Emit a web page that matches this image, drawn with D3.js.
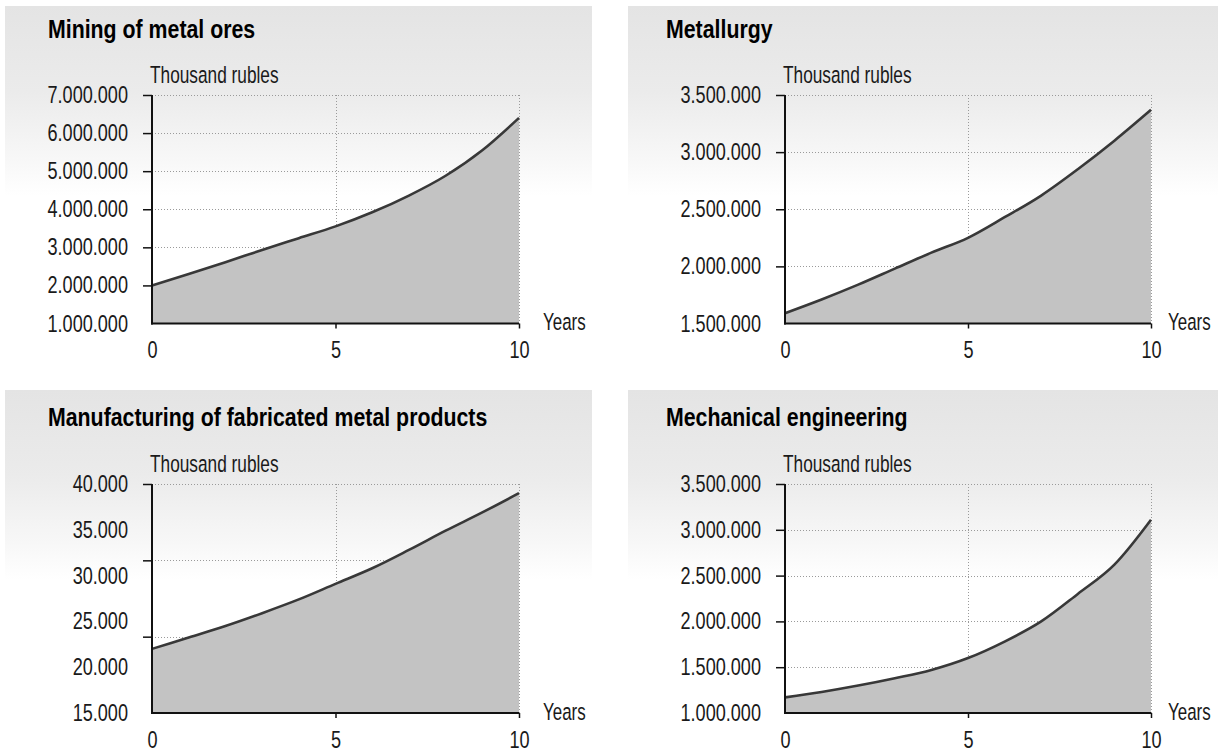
<!DOCTYPE html>
<html>
<head>
<meta charset="utf-8">
<script src="https://cdn.jsdelivr.net/npm/d3@7"></script>
<style>
  html, body { margin: 0; padding: 0; background: #ffffff; }
  svg { display: block; }
  text { font-family: "Liberation Sans", Arial, sans-serif; fill: #1a1a1a; }
  .title { font-weight: bold; font-size: 26px; fill: #000; }
  .lbl { font-size: 23.5px; }
</style>
</head>
<body>
<svg id="chart" width="1218" height="753"></svg>
<script>
// Years on the horizontal axis
const years = [0, 1, 2, 3, 4, 5, 6, 7, 8, 9, 10];
const yearTicks = [0, 5, 10];

// Panel titles
const titles = [
  "Mining of metal ores",
  "Metallurgy",
  "Manufacturing of fabricated metal products",
  "Mechanical engineering"
];

// Output per year, thousand rubles
const miningValues      = [2000000, 2300000, 2610000, 2930000, 3240000, 3550000, 3920000, 4360000, 4880000, 5550000, 6400000];
const metallurgyValues  = [1590000, 1710000, 1840000, 1980000, 2120000, 2250000, 2430000, 2620000, 2850000, 3100000, 3370000];
const fabricatedValues  = [22000, 23250, 24500, 25900, 27400, 29100, 30800, 32800, 34900, 36900, 39000];
const engineeringValues = [1170000, 1230000, 1300000, 1380000, 1470000, 1600000, 1780000, 2000000, 2300000, 2620000, 3110000];

// Value axis labels
const miningLabels      = [1000000, 2000000, 3000000, 4000000, 5000000, 6000000, 7000000];
const metallurgyLabels  = [1500000, 2000000, 2500000, 3000000, 3500000];
const fabricatedLabels  = [15000, 20000, 25000, 30000, 35000, 40000];
const engineeringLabels = [1000000, 1500000, 2000000, 2500000, 3000000, 3500000];

// Grid lines / tick marks on the value axis
const miningGrid      = [2000000, 3000000, 4000000, 5000000, 6000000, 7000000];
const metallurgyGrid  = [2000000, 2500000, 3000000, 3500000];
const fabricatedGrid  = [23333, 31667, 40000];
const engineeringGrid = [1500000, 2000000, 2500000, 3000000, 3500000];

const unitLabel = "Thousand rubles";
const yearsLabel = "Years";

const fmt = d3.formatLocale({ decimal: ",", thousands: ".", grouping: [3], currency: ["", ""] }).format(",");

const panels = [
  { title: titles[0], values: miningValues,      labels: miningLabels,      grid: miningGrid,      col: 0, row: 0 },
  { title: titles[1], values: metallurgyValues,  labels: metallurgyLabels,  grid: metallurgyGrid,  col: 1, row: 0 },
  { title: titles[2], values: fabricatedValues,  labels: fabricatedLabels,  grid: fabricatedGrid,  col: 0, row: 1 },
  { title: titles[3], values: engineeringValues, labels: engineeringLabels, grid: engineeringGrid, col: 1, row: 1 }
];

// Layout per column / row
const cols = [
  { bandX: 5,   bandW: 587, titleX: 48,  x0: 152, x1: 519,  yearsX: 543 },
  { bandX: 628, bandW: 590, titleX: 666, x0: 785, x1: 1151, yearsX: 1168 }
];
const rows = [
  { bandY: 6,   titleY: 38,  unitY: 83,  top: 95,  bottom: 323.5 },
  { bandY: 390, titleY: 426, unitY: 472, top: 484, bottom: 713 }
];

// squeeze text horizontally for a condensed face
function condense(sel, k) {
  sel.each(function () {
    const t = d3.select(this);
    const x = +t.attr("x") || 0;
    t.attr("x", x / k).attr("transform", `scale(${k},1)`);
  });
}

const svg = d3.select("#chart");

const defs = svg.append("defs");
const grad = defs.append("linearGradient")
  .attr("id", "band").attr("x1", 0).attr("y1", 0).attr("x2", 0).attr("y2", 1);
grad.append("stop").attr("offset", 0).attr("stop-color", "#e4e4e4");
grad.append("stop").attr("offset", 0.45).attr("stop-color", "#ebebeb");
grad.append("stop").attr("offset", 0.8).attr("stop-color", "#f7f7f7");
grad.append("stop").attr("offset", 1).attr("stop-color", "#ffffff");

panels.forEach(p => {
  const c = cols[p.col], r = rows[p.row];
  const g = svg.append("g");

  // header band
  g.append("rect")
    .attr("x", c.bandX).attr("y", r.bandY)
    .attr("width", c.bandW).attr("height", 190)
    .attr("fill", "url(#band)");

  g.append("text").attr("class", "title")
    .attr("x", c.titleX).attr("y", r.titleY)
    .text(p.title)
    .call(condense, 0.82);

  const x = d3.scaleLinear().domain([0, 10]).range([c.x0, c.x1]);
  const yMin = d3.min(p.labels), yMax = d3.max(p.labels);
  const y = d3.scaleLinear().domain([yMin, yMax]).range([r.bottom, r.top]);

  // dotted grid
  const grid = g.append("g")
    .attr("stroke", "#9a9a9a").attr("stroke-width", 1)
    .attr("stroke-dasharray", "1,2").attr("fill", "none");
  grid.selectAll("line.h").data(p.grid).join("line")
    .attr("class", "h")
    .attr("x1", c.x0).attr("x2", c.x1)
    .attr("y1", d => Math.round(y(d)) + 0.5).attr("y2", d => Math.round(y(d)) + 0.5);
  grid.selectAll("line.v").data([5, 10]).join("line")
    .attr("class", "v")
    .attr("x1", d => Math.round(x(d)) + 0.5).attr("x2", d => Math.round(x(d)) + 0.5)
    .attr("y1", r.top).attr("y2", r.bottom);

  // area and line
  const area = d3.area()
    .x((d, i) => x(years[i]))
    .y0(r.bottom)
    .y1(d => y(d))
    .curve(d3.curveMonotoneX);
  const line = d3.line()
    .x((d, i) => x(years[i]))
    .y(d => y(d))
    .curve(d3.curveMonotoneX);

  g.append("path").datum(p.values)
    .attr("d", area).attr("fill", "#c3c3c3");
  g.append("path").datum(p.values)
    .attr("d", line).attr("fill", "none")
    .attr("stroke", "#383838").attr("stroke-width", 2.6);

  // value axis: tick marks
  const yMarks = g.append("g").attr("transform", `translate(${c.x0},0)`)
    .call(d3.axisLeft(y).tickValues(p.grid).tickSize(9).tickSizeOuter(0).tickFormat(""));
  yMarks.select(".domain").remove();
  yMarks.selectAll(".tick line").attr("stroke", "#111").attr("stroke-width", 1.5);

  // value axis: labels
  const yLabels = g.append("g").attr("transform", `translate(${c.x0},0)`)
    .call(d3.axisLeft(y).tickValues(p.labels).tickSize(0).tickPadding(24).tickFormat(fmt));
  yLabels.select(".domain").remove();
  yLabels.attr("font-family", null).attr("font-size", null);
  yLabels.selectAll(".tick text").attr("class", "lbl").attr("fill", "#1a1a1a")
    .call(condense, 0.77);

  // year axis: tick marks
  const xMarks = g.append("g").attr("transform", `translate(0,${r.bottom})`)
    .call(d3.axisBottom(x).tickValues([5, 10]).tickSize(5).tickSizeOuter(0).tickFormat(""));
  xMarks.select(".domain").remove();
  xMarks.selectAll(".tick line").attr("stroke", "#111").attr("stroke-width", 1.5);

  // year axis: labels
  const xLabels = g.append("g").attr("transform", `translate(0,${r.bottom})`)
    .call(d3.axisBottom(x).tickValues(yearTicks).tickSize(0).tickPadding(18).tickFormat(d3.format("d")));
  xLabels.select(".domain").remove();
  xLabels.attr("font-family", null).attr("font-size", null);
  xLabels.selectAll(".tick text").attr("class", "lbl").attr("fill", "#1a1a1a")
    .call(condense, 0.77);

  // axis lines
  g.append("line")
    .attr("x1", c.x0).attr("x2", c.x0)
    .attr("y1", r.top).attr("y2", r.bottom + 1)
    .attr("stroke", "#111").attr("stroke-width", 2);
  g.append("line")
    .attr("x1", c.x0 - 1).attr("x2", c.x1)
    .attr("y1", r.bottom).attr("y2", r.bottom)
    .attr("stroke", "#111").attr("stroke-width", 2);

  // axis titles
  g.append("text").attr("class", "lbl")
    .attr("x", c.x0 - 2).attr("y", r.unitY)
    .text(unitLabel)
    .call(condense, 0.735);
  g.append("text").attr("class", "lbl")
    .attr("x", c.yearsX).attr("y", r.bottom + 7)
    .text(yearsLabel)
    .call(condense, 0.72);
});
</script>
</body>
</html>
